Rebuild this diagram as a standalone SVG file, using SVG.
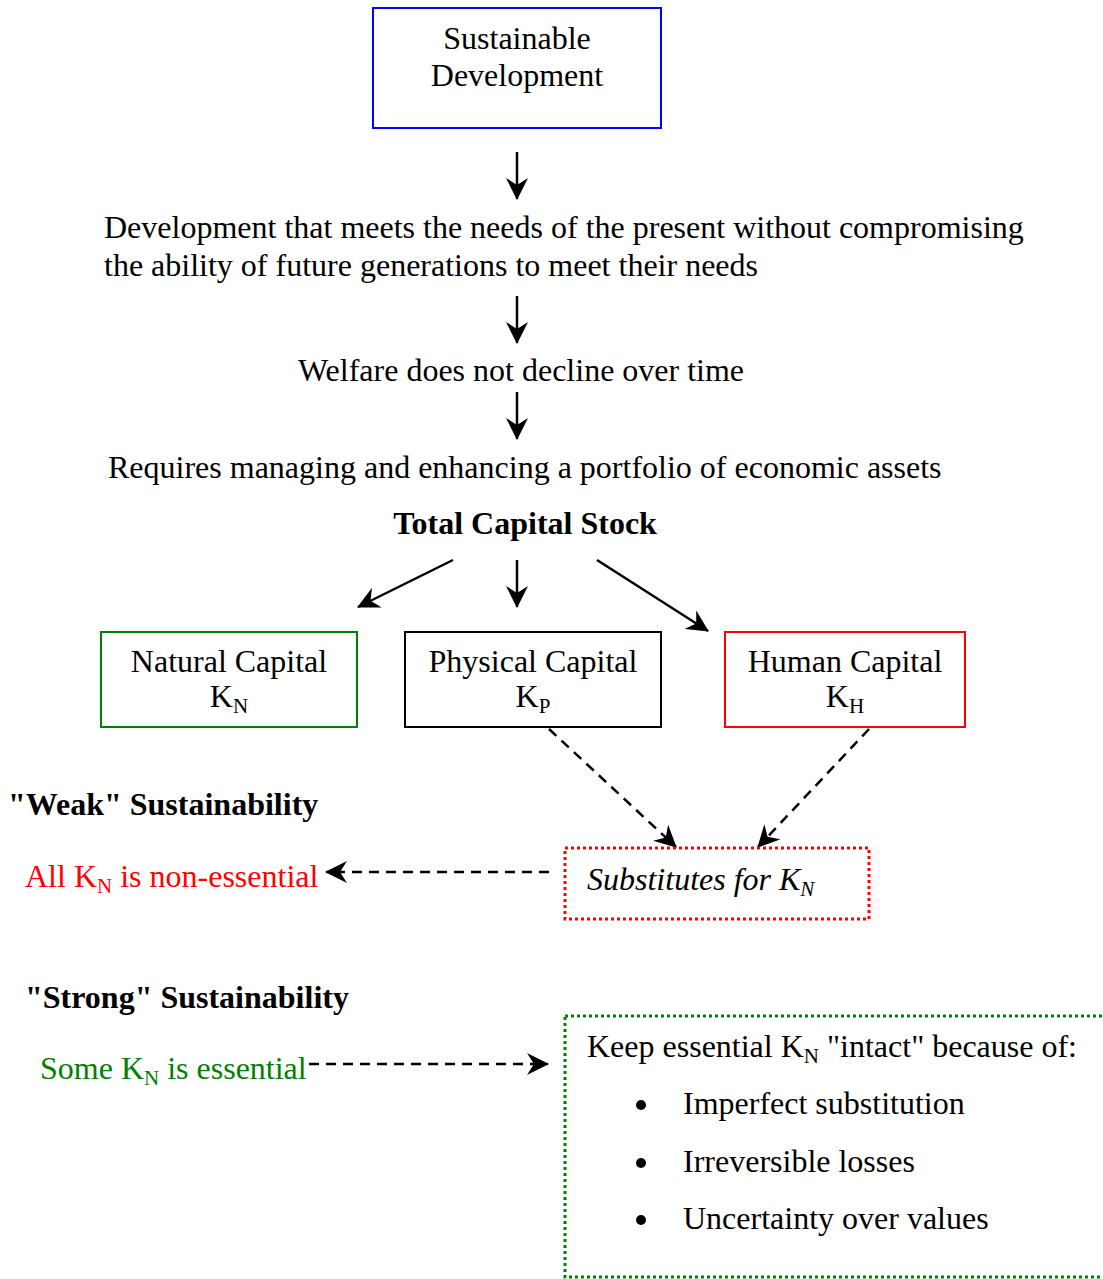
<svg xmlns="http://www.w3.org/2000/svg" width="1103" height="1279" viewBox="0 0 1103 1279">
<style>
text{font-family:"Liberation Serif","Times New Roman",serif;font-size:32px;fill:#000}
.b{font-weight:bold}
.i{font-style:italic}
.sub{font-size:21px}
.c{text-anchor:middle}
.box{fill:#fff;stroke-width:2}
.ln{fill:none;stroke:#000;stroke-width:2.5}
.dash{stroke-dasharray:10 7}
</style>
<defs>
<marker id="ah" markerUnits="userSpaceOnUse" viewBox="0 0 22 22" refX="21" refY="11" markerWidth="22" markerHeight="22" orient="auto">
<path d="M0,0 L22,11 L0,22 L7,11 z" fill="#000"/>
</marker>
</defs>
<rect width="1103" height="1279" fill="#fff"/>

<g id="connectors">
<line class="ln" x1="517" y1="152" x2="517" y2="199" marker-end="url(#ah)"/>
<line class="ln" x1="517" y1="296" x2="517" y2="343" marker-end="url(#ah)"/>
<line class="ln" x1="517" y1="392" x2="517" y2="439" marker-end="url(#ah)"/>
<line class="ln" x1="453" y1="560" x2="358" y2="607" marker-end="url(#ah)"/>
<line class="ln" x1="517" y1="560" x2="517" y2="607" marker-end="url(#ah)"/>
<line class="ln" x1="597" y1="560" x2="708" y2="631" marker-end="url(#ah)"/>
<line class="ln dash" x1="549" y1="729" x2="676" y2="847" marker-end="url(#ah)"/>
<line class="ln dash" x1="869" y1="729" x2="758" y2="847" marker-end="url(#ah)"/>
<line class="ln dash" x1="549" y1="872" x2="326" y2="872" marker-end="url(#ah)"/>
<line class="ln dash" x1="309" y1="1064" x2="548" y2="1064" marker-end="url(#ah)"/>
</g>

<g id="sustainable-development">
<rect class="box" x="373" y="8" width="288" height="120" stroke="#0000ff"/>
<text class="c" x="517" y="49">Sustainable</text>
<text class="c" x="517" y="86">Development</text>
</g>

<g id="definition">
<text x="104" y="238">Development that meets the needs of the present without compromising</text>
<text x="104" y="276">the ability of future generations to meet their needs</text>
</g>

<g id="welfare">
<text class="c" x="521" y="381">Welfare does not decline over time</text>
</g>

<g id="requires">
<text x="108" y="478">Requires managing and enhancing a portfolio of economic assets</text>
</g>

<g id="total-capital">
<text class="b c" x="525" y="534">Total Capital Stock</text>
</g>

<g id="natural-capital">
<rect class="box" x="101" y="632" width="256" height="95" stroke="#008000"/>
<text class="c" x="229" y="672">Natural Capital</text>
<text class="c" x="229" y="707">K<tspan class="sub" dy="6">N</tspan></text>
</g>

<g id="physical-capital">
<rect class="box" x="405" y="632" width="256" height="95" stroke="#000"/>
<text class="c" x="533" y="672">Physical Capital</text>
<text class="c" x="533" y="707">K<tspan class="sub" dy="6">P</tspan></text>
</g>

<g id="human-capital">
<rect class="box" x="725" y="632" width="240" height="95" stroke="#ff0000"/>
<text class="c" x="845" y="672">Human Capital</text>
<text class="c" x="845" y="707">K<tspan class="sub" dy="6">H</tspan></text>
</g>

<g id="weak-label">
<text class="b" x="8" y="815">"Weak" Sustainability</text>
</g>

<g id="non-essential">
<text x="25" y="887" style="fill:#ff0000">All K<tspan class="sub" dy="6">N</tspan><tspan dy="-6"> is non-essential</tspan></text>
</g>

<g id="substitutes">
<rect x="565" y="848" width="304" height="71" fill="#fff" stroke="#ff0000" stroke-width="3" stroke-dasharray="3 3"/>
<text class="i" x="587" y="890">Substitutes for K<tspan class="sub" dy="6">N</tspan></text>
</g>

<g id="strong-label">
<text class="b" x="25" y="1008">"Strong" Sustainability</text>
</g>

<g id="essential">
<text x="40" y="1079" style="fill:#008000">Some K<tspan class="sub" dy="6">N</tspan><tspan dy="-6"> is essential</tspan></text>
</g>

<g id="keep-intact">
<rect x="565" y="1016" width="545" height="261" fill="#fff" stroke="#008000" stroke-width="3" stroke-dasharray="3 3"/>
<text x="587" y="1057">Keep essential K<tspan class="sub" dy="6">N</tspan><tspan dy="-6"> "intact" because of:</tspan></text>
<circle cx="641" cy="1105" r="5" fill="#000"/>
<text x="683" y="1114">Imperfect substitution</text>
<circle cx="641" cy="1163" r="5" fill="#000"/>
<text x="683" y="1172">Irreversible losses</text>
<circle cx="641" cy="1220" r="5" fill="#000"/>
<text x="683" y="1229">Uncertainty over values</text>
</g>
</svg>
